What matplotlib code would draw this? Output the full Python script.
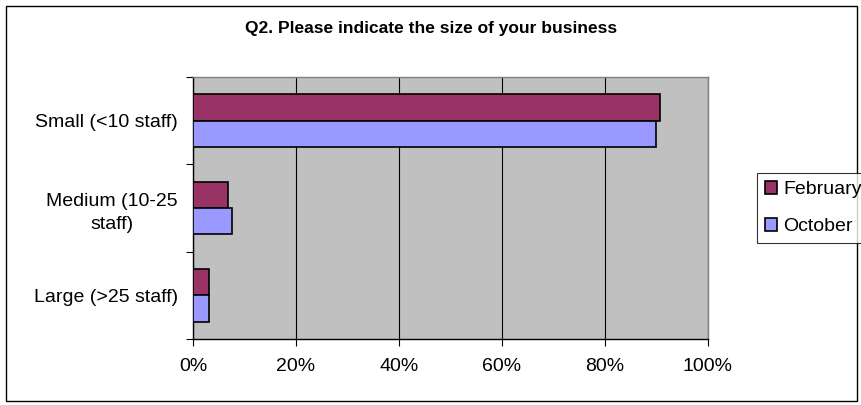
import matplotlib.pyplot as plt
import numpy as np
from matplotlib.patches import Rectangle
from matplotlib.ticker import FixedLocator, PercentFormatter

plt.rcParams["font.family"] = ["Liberation Sans", "DejaVu Sans"]

TITLE = "Q2. Please indicate the size of your business"
CATEGORIES = ["Small (<10 staff)", "Medium (10-25\nstaff)", "Large (>25 staff)"]
FEBRUARY = [90.7, 6.7, 3.2]
OCTOBER = [89.9, 7.5, 3.2]
X_TICKS = [0, 20, 40, 60, 80, 100]

FEB_COLOR = "#993366"
OCT_COLOR = "#9999FF"
BAR_HEIGHT = 0.3
LABEL_SIZE = 14


def main() -> None:
    fig = plt.figure(figsize=(8.61, 4.05), dpi=100)
    ax = fig.add_axes([193 / 861, 66 / 405, 515 / 861, 262 / 405])
    ax.set_facecolor("#C0C0C0")

    # categories run top to bottom, February bar above October
    y = np.arange(len(CATEGORIES))[::-1].astype(float)
    ax.barh(y + BAR_HEIGHT / 2, FEBRUARY, height=BAR_HEIGHT, color=FEB_COLOR,
            edgecolor="black", linewidth=1.2, label="February", zorder=3)
    ax.barh(y - BAR_HEIGHT / 2, OCTOBER, height=BAR_HEIGHT, color=OCT_COLOR,
            edgecolor="black", linewidth=1.2, label="October", zorder=3)

    ax.set_xlim(0, 100)
    ax.set_ylim(-0.5, len(CATEGORIES) - 0.5)
    ax.xaxis.set_major_locator(FixedLocator(X_TICKS))
    ax.xaxis.set_major_formatter(PercentFormatter(decimals=0))
    ax.grid(axis="x", color="black", linewidth=0.8, zorder=1)

    # ticks sit on the category boundaries, labels in between
    ax.set_yticks(np.arange(-0.5, len(CATEGORIES), 1.0))
    ax.set_yticklabels([])
    ax.set_yticks(y, minor=True)
    ax.set_yticklabels(CATEGORIES, minor=True, multialignment="center",
                       linespacing=1.45)
    ax.tick_params(axis="y", which="minor", length=0, pad=11, labelsize=LABEL_SIZE)
    ax.tick_params(axis="y", which="major", length=5, width=0.8)
    ax.tick_params(axis="x", length=5, width=0.8, pad=9, labelsize=LABEL_SIZE)

    for side in ("left", "bottom"):
        ax.spines[side].set_color("black")
        ax.spines[side].set_linewidth(1.0)
    for side in ("top", "right"):
        ax.spines[side].set_color("#808080")
        ax.spines[side].set_linewidth(1.0)

    fig.text(431 / 861, 1 - 29 / 405, TITLE, ha="center", va="center",
             fontsize=12.5, fontweight="bold")

    leg = fig.legend(loc="upper left", bbox_to_anchor=(757 / 861, 1 - 173 / 405),
                     frameon=True, fancybox=False, fontsize=LABEL_SIZE,
                     handlelength=0.65, handleheight=0.65, handletextpad=0.3,
                     labelspacing=1.0, borderpad=0.4, borderaxespad=0)
    leg.get_frame().set_edgecolor("black")
    leg.get_frame().set_linewidth(0.8)

    fig.patches.append(Rectangle((6 / 861, 4 / 405), 851 / 861, 395 / 405,
                                 transform=fig.transFigure, fill=False,
                                 edgecolor="black", linewidth=1.0))

    fig.savefig("out.png", dpi=100)
    plt.close(fig)


if __name__ == "__main__":
    main()
